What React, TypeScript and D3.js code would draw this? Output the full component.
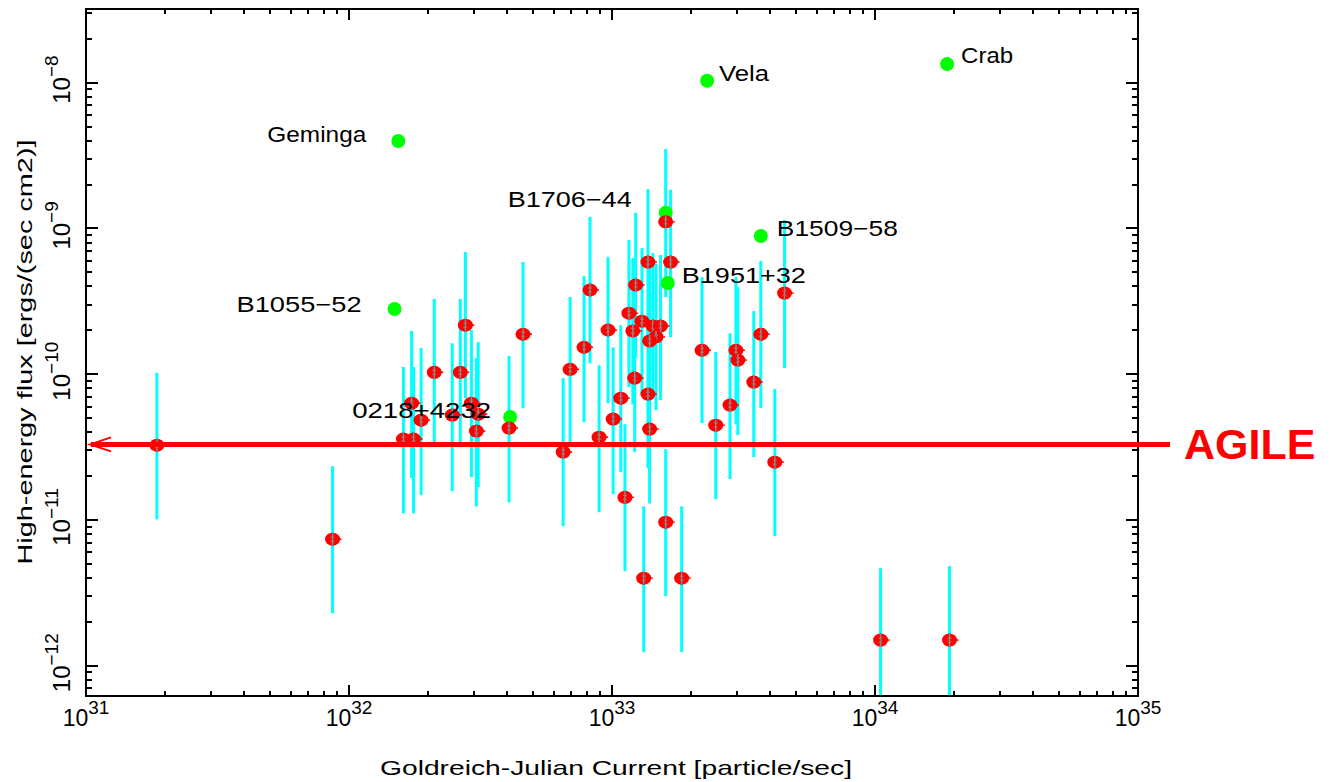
import React from 'react';
import * as d3 from 'd3';

const W = 1330;
const H = 782;

// pulsars with names (green dots)
const namedPulsars = ['Crab', 'Vela', 'Geminga', 'B1706−44', 'B1509−58', 'B1951+32', 'B1055−52', '0218+4232'];
const namedCurrent = [1.88e34, 2.3e33, 1.54e32, 1.6e33, 3.68e33, 1.63e33, 1.49e32, 4.1e32];
const namedFlux = [1.34e-8, 1.03e-8, 3.98e-9, 1.28e-9, 8.87e-10, 4.22e-10, 2.8e-10, 5.08e-11];

// other pulsars (red points with cyan error bars)
const current = [
  1.86e31, 8.66e31, 1.61e32, 1.76e32, 1.73e32, 1.88e32, 2.11e32, 2.47e32, 2.65e32, 2.77e32,
  2.92e32, 3.1e32, 3.05e32, 4.06e32, 4.59e32, 6.52e32, 6.93e32, 7.83e32, 8.25e32, 8.93e32,
  9.66e32, 1.01e33, 1.08e33, 1.12e33, 1.16e33, 1.23e33, 1.2e33, 1.22e33, 1.3e33, 1.37e33,
  1.37e33, 1.39e33, 1.43e33, 1.53e33, 1.47e33, 1.39e33, 1.6e33, 1.67e33, 1.6e33, 1.32e33,
  1.84e33, 2.2e33, 2.48e33, 2.81e33, 2.96e33, 3.01e33, 3.46e33, 3.68e33, 4.53e33, 4.16e33,
  1.05e34, 1.92e34,
];
const flux = [
  3.26e-11, 7.38e-12, 3.59e-11, 3.59e-11, 6.33e-11, 4.84e-11, 1.03e-10, 5.24e-11, 1.03e-10, 2.17e-10,
  6.33e-11, 5.32e-11, 4.07e-11, 4.27e-11, 1.88e-10, 2.92e-11, 1.08e-10, 1.53e-10, 3.78e-10, 3.7e-11,
  2.01e-10, 4.92e-11, 6.85e-11, 1.43e-11, 2.62e-10, 4.09e-10, 1.98e-10, 9.4e-11, 2.31e-10, 5.88e-10,
  7.3e-11, 4.2e-11, 2.14e-10, 2.14e-10, 1.8e-10, 1.69e-10, 1.11e-9, 5.88e-10, 9.66e-12, 3.99e-12,
  3.99e-12, 1.46e-10, 4.47e-11, 6.14e-11, 1.46e-10, 1.25e-10, 8.83e-11, 1.88e-10, 3.6e-10, 2.49e-11,
  1.5e-12, 1.5e-12,
];
const fluxLow = [
  1.01e-11, 2.29e-12, 1.11e-11, 1.11e-11, 1.94e-11, 1.48e-11, 3.42e-11, 1.58e-11, 3.42e-11, 6.85e-11,
  1.97e-11, 1.68e-11, 1.24e-11, 1.32e-11, 5.85e-11, 9.06e-12, 3.42e-11, 4.69e-11, 1.19e-10, 1.13e-11,
  6.33e-11, 1.5e-11, 2.13e-11, 4.45e-12, 8.15e-11, 1.29e-10, 6.23e-11, 2.92e-11, 7.3e-11, 1.85e-10,
  2.27e-11, 1.3e-11, 6.75e-11, 6.64e-11, 5.67e-11, 5.32e-11, 3.38e-10, 1.8e-10, 3.0e-12, 1.24e-12,
  1.24e-12, 4.62e-11, 1.39e-11, 1.91e-11, 4.54e-11, 3.82e-11, 2.7e-11, 5.85e-11, 1.1e-10, 7.74e-12,
  4.7e-13, 4.8e-13,
];
const fluxHigh = [
  1.02e-10, 2.34e-11, 1.12e-10, 1.12e-10, 1.98e-10, 1.51e-10, 3.28e-10, 1.63e-10, 3.28e-10, 6.89e-10,
  2.01e-10, 1.66e-10, 1.29e-10, 1.33e-10, 5.88e-10, 9.4e-11, 3.38e-10, 4.71e-10, 1.2e-9, 1.15e-10,
  6.36e-10, 1.53e-10, 2.17e-10, 4.54e-11, 8.32e-10, 1.28e-9, 6.26e-10, 2.98e-10, 7.33e-10, 1.86e-9,
  2.31e-10, 1.33e-10, 6.78e-10, 6.57e-10, 5.7e-10, 5.35e-10, 3.51e-9, 1.84e-9, 3.06e-11, 1.24e-11,
  1.24e-11, 4.64e-10, 1.42e-10, 1.91e-10, 4.64e-10, 3.96e-10, 2.71e-10, 5.97e-10, 1.14e-9, 7.9e-11,
  4.67e-12, 4.82e-12,
];

const agileFlux = 3.3e-11;

const xDomain = [1e31, 1e35];
const yDomain = [6.2e-13, 3.2e-8];

// label placement around the green dots
const labelPos: Record<string, { dx: number; dy: number; anchor: string; len: number }> = {
  'Crab': { dx: 14, dy: -1, anchor: 'start', len: 52 },
  'Vela': { dx: 12, dy: 0, anchor: 'start', len: 50 },
  'Geminga': { dx: -32, dy: 1, anchor: 'end', len: 99 },
  'B1706−44': { dx: -34, dy: -6, anchor: 'end', len: 124 },
  'B1509−58': { dx: 16, dy: 0, anchor: 'start', len: 121 },
  'B1951+32': { dx: 14, dy: 0, anchor: 'start', len: 124 },
  'B1055−52': { dx: -33, dy: 3, anchor: 'end', len: 125 },
  '0218+4232': { dx: -19, dy: 1, anchor: 'end', len: 139 },
};

const margin = { left: 86, right: 1138, top: 9, bottom: 696 };
const font = "'Liberation Sans', Arial, sans-serif";

function isDecade(v: number) {
  const l = Math.log10(v);
  return Math.abs(l - Math.round(l)) < 1e-6;
}

export default function App() {
  const x = d3.scaleLog().domain(xDomain).range([margin.left, margin.right]);
  const y = d3.scaleLog().domain(yDomain).range([margin.bottom, margin.top]);

  const xTicks = x.ticks();
  const yTicks = y.ticks();

  const red = current.map((c, i) => ({ c, f: flux[i], lo: fluxLow[i], hi: fluxHigh[i] }));
  const named = namedPulsars.map((n, i) => ({ n, c: namedCurrent[i], f: namedFlux[i] }));

  const agileY = y(agileFlux);

  return (
    <div style={{ position: 'fixed', left: 0, top: 0 }}>
      <svg width={W} height={H} style={{ display: 'block', background: '#fff' }} fontFamily={font}>
        <defs>
          <clipPath id="plotClip">
            <rect x={margin.left} y={margin.top} width={margin.right - margin.left} height={margin.bottom - margin.top} />
          </clipPath>
        </defs>

        {/* error bars */}
        <g clipPath="url(#plotClip)">
          {red.map((d, i) => (
            <line key={'e' + i} x1={x(d.c)} x2={x(d.c)} y1={y(d.hi)} y2={y(d.lo)} stroke="#00ffff" strokeWidth={3} />
          ))}
        </g>

        {/* named pulsars */}
        {named.map((d, i) => (
          <circle key={'g' + i} cx={x(d.c)} cy={y(d.f)} r={7} fill="#00ff00" />
        ))}

        {/* red points */}
        {red.map((d, i) => {
          const cx = x(d.c);
          const cy = y(d.f);
          return (
            <g key={'r' + i}>
              <ellipse cx={cx} cy={cy} rx={7.5} ry={6.5} fill="#ff0000" />
              <line x1={cx + 2} x2={cx + 9} y1={cy} y2={cy} stroke="#ff0000" strokeWidth={1.5} />
              <line x1={cx} x2={cx} y1={cy - 6} y2={cy + 6} stroke="#888888" strokeWidth={1.5} />
              <line x1={cx - 2} x2={cx + 2} y1={cy - 2} y2={cy - 2} stroke="#888888" strokeWidth={1} />
              <line x1={cx - 2} x2={cx + 2} y1={cy + 2} y2={cy + 2} stroke="#888888" strokeWidth={1} />
            </g>
          );
        })}

        {/* labels */}
        {named.map((d, i) => {
          const p = labelPos[d.n];
          return (
            <text
              key={'l' + i}
              x={x(d.c) + p.dx}
              y={y(d.f) + p.dy}
              textAnchor={p.anchor as any}
              fontSize={22}
              textLength={p.len}
              lengthAdjust="spacingAndGlyphs"
              fill="#000"
            >
              {d.n}
            </text>
          );
        })}

        {/* frame */}
        <rect
          x={margin.left}
          y={margin.top}
          width={margin.right - margin.left}
          height={margin.bottom - margin.top}
          fill="none"
          stroke="#000"
          strokeWidth={2.5}
          shapeRendering="crispEdges"
        />

        {/* x ticks, bottom and top */}
        {xTicks.map((t, i) => {
          const len = isDecade(t) ? 11 : 5;
          const xx = Math.round(x(t));
          return (
            <g key={'xt' + i} shapeRendering="crispEdges">
              <line x1={xx} x2={xx} y1={margin.bottom} y2={margin.bottom - len} stroke="#000" strokeWidth={2} />
              <line x1={xx} x2={xx} y1={margin.top} y2={margin.top + len} stroke="#000" strokeWidth={2} />
            </g>
          );
        })}
        {xTicks.filter(isDecade).map((t, i) => (
          <text key={'xl' + i} x={x(t)} y={726} textAnchor="middle" fontSize={23}>
            10
            <tspan dy={-12} fontSize={19}>{Math.round(Math.log10(t))}</tspan>
          </text>
        ))}

        {/* y ticks, left and right */}
        {yTicks.map((t, i) => {
          const len = isDecade(t) ? 12 : 6;
          const yy = Math.round(y(t));
          return (
            <g key={'yt' + i} shapeRendering="crispEdges">
              <line x1={margin.left} x2={margin.left + len} y1={yy} y2={yy} stroke="#000" strokeWidth={2} />
              <line x1={margin.right} x2={margin.right - len} y1={yy} y2={yy} stroke="#000" strokeWidth={2} />
            </g>
          );
        })}
        {yTicks.filter(isDecade).map((t, i) => (
          <text
            key={'yl' + i}
            transform={`translate(70,${y(t) - 3}) rotate(-90)`}
            textAnchor="middle"
            fontSize={24}
          >
            10
            <tspan dy={-12} fontSize={19}>{'−' + Math.abs(Math.round(Math.log10(t)))}</tspan>
          </text>
        ))}

        {/* axis titles */}
        <text x={616} y={775} textAnchor="middle" fontSize={21} textLength={472} lengthAdjust="spacingAndGlyphs">
          Goldreich-Julian Current [particle/sec]
        </text>
        <text
          transform="translate(32,352) rotate(-90)"
          textAnchor="middle"
          fontSize={21}
          textLength={425}
          lengthAdjust="spacingAndGlyphs"
        >
          High-energy flux [ergs/(sec cm2)]
        </text>

        {/* AGILE sensitivity */}
        <line x1={91} x2={1170} y1={agileY} y2={agileY} stroke="#ff0000" strokeWidth={5} />
        <polyline
          points={`111,${agileY - 7} 90,${agileY} 111,${agileY + 7}`}
          fill="none"
          stroke="#ff0000"
          strokeWidth={2}
        />
        <text x={1184} y={agileY + 15} fontSize={43} fontWeight="bold" fill="#ff0000">
          AGILE
        </text>
      </svg>
    </div>
  );
}
